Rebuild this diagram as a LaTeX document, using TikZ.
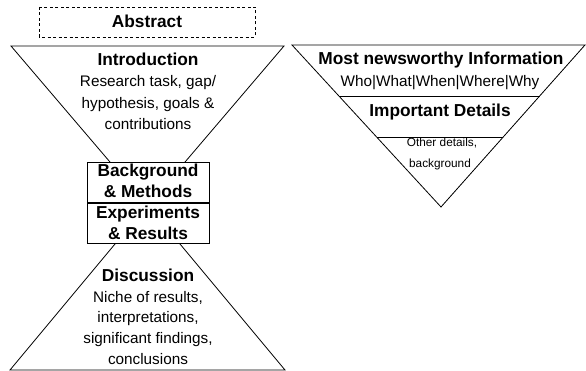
\documentclass[tikz,border=0pt]{standalone}
\usepackage{fontspec}
\setmainfont{Liberation Sans}
\usetikzlibrary{calc}
\begin{document}
\begin{tikzpicture}[x=1pt,y=-1pt,
  line/.style={draw=black,line width=0.8pt,line join=miter},
  title/.style={inner sep=0pt,anchor=base,font=\bfseries\fontsize{17.3}{20}\selectfont},
  body/.style={inner sep=0pt,anchor=base,font=\fontsize{15.3}{18}\selectfont},
  small/.style={inner sep=0pt,anchor=base,font=\fontsize{11.8}{14}\selectfont},
  boxed/.style={line,fill=white}]
\useasboundingbox (0,0) rectangle (586,371);
% left hourglass
\coordinate (itl) at (11,46);
\coordinate (itr) at (284,46);
\coordinate (iap) at (147.5,206);
\coordinate (dbl) at (10,370);
\coordinate (dbr) at (285,370);
\coordinate (dap) at (147.5,205);
\draw[line] (itl) -- (itr) -- (iap) -- cycle;
\draw[line] (dbl) -- (dbr) -- (dap) -- cycle;
% abstract
\draw[line,dashed,dash pattern=on 3pt off 2.5pt] (39,7) rectangle (255,37);
\node[title] (abs) at (147,28) {Abstract};
% intro text
\node[title] (intro) at (148,66) {Introduction};
\node[body] (i1) at (148,87) {Research task, gap/};
\node[body] (i2) at (148,108.5) {hypothesis, goals \&};
\node[body] (i3) at (148,130) {contributions};
% boxes
\draw[boxed] (87,162) rectangle (209,202);
\node[title] (bg1) at (148,177) {Background};
\node[title] (bg2) at (148,198) {\& Methods};
\draw[boxed] (87,203) rectangle (209,243);
\node[title] (ex1) at (148,219) {Experiments};
\node[title] (ex2) at (148,240) {\& Results};
% discussion text
\node[title] (disc) at (148,281) {Discussion};
\node[body] (d1) at (148,302) {Niche of results,};
\node[body] (d2) at (148,322.5) {interpretations,};
\node[body] (d3) at (148,343) {significant findings,};
\node[body] (d4) at (148,364) {conclusions};
% right inverted pyramid
\coordinate (rtl) at (292,45);
\coordinate (rtr) at (585,45);
\coordinate (rap) at (441,207);
\draw[line] (rtl) -- (rtr) -- (rap) -- cycle;
\draw[line] ($(rtl)!{51/162}!(rap)$) -- ($(rtr)!{51/162}!(rap)$);
\draw[line] ($(rtl)!{92/162}!(rap)$) -- ($(rtr)!{92/162}!(rap)$);
\node[title] (most) at (441,65) {Most newsworthy Information};
\node[body] (who) at (440,87) {Who|What|When|Where|Why};
\node[title] (imp) at (440,117) {Important Details};
\node[small] (oth) at (442,147) {Other details,};
\node[small] (bgr) at (440,168) {background};
\end{tikzpicture}
\end{document}
